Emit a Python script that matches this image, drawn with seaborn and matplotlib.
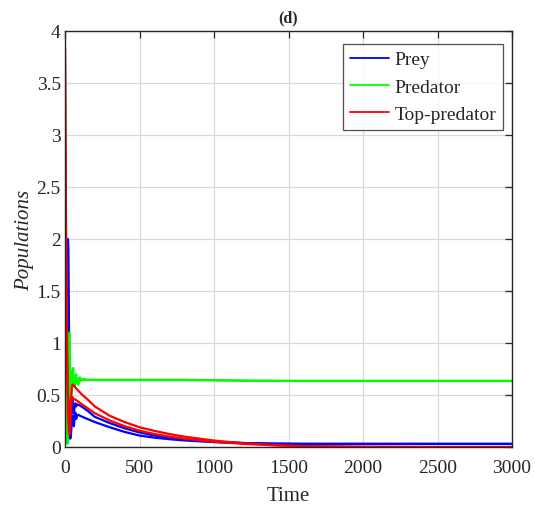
import numpy as np
import pandas as pd
import matplotlib
matplotlib.use("Agg")
import matplotlib.pyplot as plt
import seaborn as sns
from matplotlib.lines import Line2D

# ---- data ----
time = [0, 3, 6, 10, 14, 17, 20, 23, 26, 30, 35, 40, 45, 50, 55, 60, 65, 70, 75, 80,
        90, 100, 110, 125, 150, 200, 300, 400, 500, 600, 700, 800, 1000, 1200, 1400,
        1600, 2000, 2500, 3000]

prey_a = [0.5, 0.8, 1.1, 1.5, 1.8, 1.95, 2.0, 1.9, 1.3, 0.5, 0.2, 0.22, 0.38, 0.45, 0.36,
          0.32, 0.4, 0.42, 0.39, 0.41, 0.405, 0.40, 0.39, 0.375, 0.35, 0.29, 0.23, 0.18,
          0.14, 0.11, 0.09, 0.075, 0.05, 0.038, 0.032, 0.03, 0.03, 0.03, 0.03]
prey_b = [0.3, 0.5, 0.8, 1.1, 1.3, 1.4, 1.3, 0.9, 0.5, 0.2, 0.08, 0.12, 0.22, 0.3, 0.22,
          0.2, 0.3, 0.33, 0.27, 0.3, 0.31, 0.30, 0.295, 0.285, 0.27, 0.24, 0.19, 0.145,
          0.11, 0.09, 0.075, 0.063, 0.047, 0.038, 0.032, 0.03, 0.03, 0.03, 0.03]

predator_a = [3.0, 2.3, 1.5, 0.6, 0.15, 0.03, 0.15, 0.6, 1.05, 1.1, 0.75, 0.45, 0.55, 0.72,
              0.76, 0.6, 0.58, 0.68, 0.7, 0.62, 0.6, 0.67, 0.64, 0.655, 0.645, 0.645,
              0.645, 0.645, 0.645, 0.645, 0.645, 0.645, 0.642, 0.638, 0.636, 0.635,
              0.635, 0.635, 0.635]
predator_b = [2.6, 1.8, 1.0, 0.35, 0.08, 0.05, 0.25, 0.7, 0.9, 0.75, 0.5, 0.52, 0.68, 0.7,
              0.62, 0.6, 0.66, 0.65, 0.61, 0.64, 0.66, 0.635, 0.65, 0.645, 0.645, 0.645,
              0.645, 0.645, 0.645, 0.645, 0.645, 0.645, 0.642, 0.638, 0.636, 0.635,
              0.635, 0.635, 0.635]

top_a = [3.83, 3.0, 2.3, 1.55, 1.0, 0.72, 0.5, 0.35, 0.25, 0.22, 0.3, 0.45, 0.57, 0.6, 0.6,
         0.59, 0.58, 0.575, 0.565, 0.555, 0.54, 0.525, 0.51, 0.49, 0.46, 0.39, 0.30, 0.24,
         0.19, 0.155, 0.125, 0.10, 0.062, 0.036, 0.019, 0.009, 0.002, 0.0, 0.0]
top_b = [3.83, 2.9, 2.15, 1.4, 0.85, 0.6, 0.4, 0.25, 0.15, 0.12, 0.2, 0.35, 0.44, 0.48, 0.47,
         0.46, 0.46, 0.455, 0.45, 0.445, 0.435, 0.425, 0.415, 0.40, 0.375, 0.325, 0.255,
         0.20, 0.157, 0.125, 0.10, 0.08, 0.05, 0.03, 0.016, 0.007, 0.002, 0.0, 0.0]

species_names = ["Prey", "Predator", "Top-predator"]
x_ticks = [0, 500, 1000, 1500, 2000, 2500, 3000]
y_ticks = [0, 0.5, 1, 1.5, 2, 2.5, 3, 3.5, 4]
y_ticklabels = ["0", "0.5", "1", "1.5", "2", "2.5", "3", "3.5", "4"]

# ---- build long-form table ----
rows = []
for name, trajs in zip(species_names,
                       [[prey_a, prey_b], [predator_a, predator_b], [top_a, top_b]]):
    for k, tr in enumerate(trajs):
        for t, v in zip(time, tr):
            rows.append({"Time": t, "value": v, "species": name, "traj": f"{name}{k}"})
df = pd.DataFrame(rows)

sns.set_theme(style="white")
plt.rcParams["font.family"] = ["Liberation Serif", "DejaVu Serif"]

fig = plt.figure(figsize=(5.35, 5.10), dpi=100)
ax = fig.add_axes([65 / 535, 1 - 448 / 510, 447 / 535, 416 / 510])

palette = {"Prey": (0, 0, 1), "Predator": (0, 1, 0), "Top-predator": (1, 0, 0)}
sns.lineplot(data=df, x="Time", y="value", hue="species", units="traj",
             estimator=None, palette=palette, hue_order=species_names,
             linewidth=1.6, ax=ax, legend=False, sort=False)

ax.set_xlim(0, 3000)
ax.set_ylim(0, 4)
ax.set_xticks(x_ticks)
ax.set_yticks(y_ticks)
ax.set_yticklabels(y_ticklabels)
ax.tick_params(axis="both", which="both", direction="in", length=5, width=0.9,
               top=True, right=True, labelsize=14, colors="#262626")
ax.tick_params(axis="x", pad=9)
ax.tick_params(axis="y", pad=3)
for lbl in ax.get_xticklabels() + ax.get_yticklabels():
    lbl.set_color("#262626")
ax.grid(True, color="#d9d9d9", linewidth=0.9)
for s in ax.spines.values():
    s.set_color("#262626")
    s.set_linewidth(1.0)
    s.set_visible(True)

ax.set_xlabel("Time", fontsize=15, color="#262626", labelpad=7)
ax.set_ylabel("Populations", fontsize=15, style="italic", color="#262626", labelpad=2)
ax.set_title("(d)", fontsize=11.5, fontweight="bold", pad=7)

handles = [Line2D([0], [0], color=palette[n], linewidth=1.3) for n in species_names]
leg = ax.legend(handles, species_names, loc="upper right",
                bbox_to_anchor=((503 - 65) / 447, (448 - 45) / 416),
                borderaxespad=0, fontsize=14, frameon=True, fancybox=False,
                edgecolor="#262626", handlelength=2.0, handletextpad=0.3,
                labelspacing=0.5, borderpad=0.35)
leg.get_frame().set_linewidth(0.9)

fig.savefig("out.png", dpi=100)
